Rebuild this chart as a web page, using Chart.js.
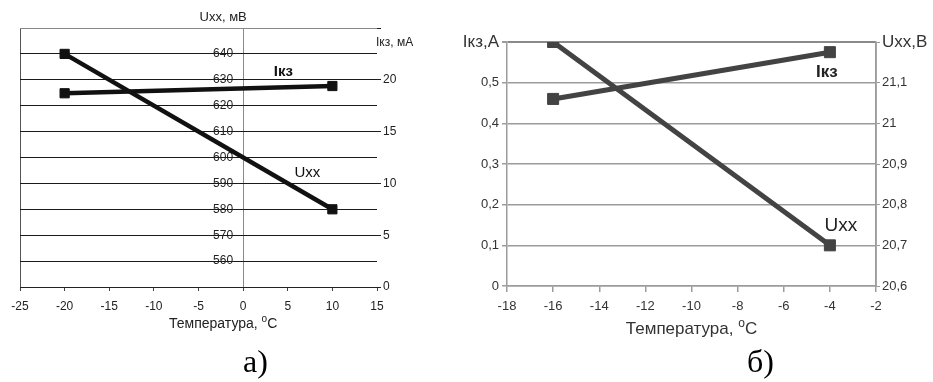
<!DOCTYPE html>
<html><head><meta charset="utf-8">
<script src="https://cdn.jsdelivr.net/npm/chart.js@4"></script>
<style>
html,body{margin:0;padding:0;background:#fff;width:933px;height:382px;overflow:hidden;}
#ca{position:absolute;left:0;top:0;}
#cb{position:absolute;left:440px;top:0;}
.cap{position:absolute;font-family:"Liberation Serif","DejaVu Serif",serif;font-size:32px;color:#000;line-height:1;}
</style></head><body>
<canvas id="ca" width="450" height="382"></canvas>
<canvas id="cb" width="493" height="382"></canvas>
<div class="cap" style="left:243px;top:345px">а)</div>
<div class="cap" style="left:747px;top:345px">б)</div>
<script>
// ---- Data: chart а) ----
const tempA = [-20, 10];          // °C
const uxxA  = [640, 580];         // Uxx, мВ
const ikzA  = [18.7, 19.4];       // Iкз, мА
const xTickA = {min: -25, max: 15, step: 5};
const uTickA = {min: 550, max: 650, step: 10};
const iTickA = {min: 0, max: 25, step: 5};

// ---- Data: chart б) ----
const tempB = [-16, -4];          // °C
const uxxB  = [21.2, 20.7];       // Uxx, В
const ikzB  = [0.46, 0.575];      // Iкз, А
const xTickB = {min: -18, max: -2, step: 2};
const iTickB = {min: 0, max: 0.6, step: 0.1};
const uTickB = {min: 20.6, max: 21.2, step: 0.1};

const SANS = '"Liberation Sans", Arial, sans-serif';
const fmtComma = v => String(Number(v.toFixed(2))).replace('.', ',');

function pts(xs, ys){ return xs.map((x,i)=>({x:x, y:ys[i]})); }

function drawText(ctx, text, x, y, font, color, align){
  ctx.save();
  ctx.font = font; ctx.fillStyle = color;
  ctx.textAlign = align || 'center'; ctx.textBaseline = 'middle';
  ctx.fillText(text, x, y);
  ctx.restore();
}
function drawTempTitle(ctx, cx, cy, size, color){
  ctx.save();
  const main = 'Температура, ';
  ctx.font = size + 'px ' + SANS;
  const w1 = ctx.measureText(main).width;
  const w3 = ctx.measureText('C').width;
  ctx.font = Math.round(size*0.72) + 'px ' + SANS;
  const w2 = ctx.measureText('o').width;
  let x = cx - (w1+w2+w3)/2;
  ctx.fillStyle = color; ctx.textAlign='left'; ctx.textBaseline='middle';
  ctx.font = size + 'px ' + SANS; ctx.fillText(main, x, cy); x += w1;
  ctx.font = Math.round(size*0.72) + 'px ' + SANS; ctx.fillText('o', x, cy - size*0.32); x += w2;
  ctx.font = size + 'px ' + SANS; ctx.fillText('C', x, cy);
  ctx.restore();
}

// ---------------- Chart а) ----------------
const inkA = '#111';
const notesA = {
  id: 'notesA',
  afterDraw(chart){
    const ctx = chart.ctx, a = chart.chartArea, s = chart.scales;
    const x0 = s.x.getPixelForValue(0);
    drawText(ctx, 'Uxx, мВ', x0 - 20, a.top - 11, '13px ' + SANS, '#222');
    drawText(ctx, 'Iкз, мА', a.right - 1, a.top + 15, '12px ' + SANS, '#222', 'left');
    drawTempTitle(ctx, x0 - 20, a.bottom + 37, 14, '#222');
    const pI = chart.getDatasetMeta(1).data[1];
    drawText(ctx, 'Iкз', pI.x - 49, pI.y - 14, 'bold 15px ' + SANS, inkA);
    const pU = chart.getDatasetMeta(0).data[1];
    drawText(ctx, 'Uxx', pU.x - 25, pU.y - 36, '15px ' + SANS, inkA);
  }
};
new Chart(document.getElementById('ca'), {
  type: 'line',
  data: { datasets: [
    { data: pts(tempA, uxxA), yAxisID: 'yU', borderColor: inkA, borderWidth: 4.5,
      pointStyle: 'rect', pointRadius: 6.5, pointBackgroundColor: inkA, pointBorderColor: inkA, pointBorderWidth: 1 },
    { data: pts(tempA, ikzA), yAxisID: 'yI', borderColor: inkA, borderWidth: 4.5,
      pointStyle: 'rect', pointRadius: 6.5, pointBackgroundColor: inkA, pointBorderColor: inkA, pointBorderWidth: 1 }
  ]},
  options: {
    responsive: false, animation: false, devicePixelRatio: 1,
    layout: { padding: { left: 20, top: 28, right: 0, bottom: 0 } },
    plugins: { legend: { display: false }, tooltip: { enabled: false } },
    scales: {
      x: { type: 'linear', min: xTickA.min, max: xTickA.max,
        ticks: { stepSize: xTickA.step, color: '#222', font: { size: 12, family: SANS }, padding: 8,
          callback: v => String(v), maxRotation: 0 },
        grid: { color: c => c.tick.value === xTickA.min ? '#555' : (c.tick.value === 0 ? '#8a8a8a' : 'rgba(0,0,0,0)'),
          tickColor: '#444', tickLength: 4, lineWidth: 1 },
        border: { color: '#222', width: 1 },
        afterFit: s => { s.height = 95; } },
      yU: { type: 'linear', position: { x: 0 }, min: uTickA.min, max: uTickA.max,
        ticks: { stepSize: uTickA.step, color: '#222', font: { size: 12, family: SANS },
          callback: v => (v === uTickA.min || v === uTickA.max) ? '' : String(v) + '   ' },
        grid: { color: c => c.tick.value === uTickA.max ? '#888' : '#1a1a1a', lineWidth: 1, drawTicks: false },
        border: { display: false } },
      yI: { type: 'linear', position: 'right', min: iTickA.min, max: iTickA.max,
        ticks: { stepSize: iTickA.step, color: '#222', font: { size: 12, family: SANS }, padding: 2,
          callback: v => v === iTickA.max ? '' : String(v) },
        grid: { drawOnChartArea: false, tickColor: '#222', tickLength: 4 },
        border: { display: false },
        afterFit: s => { s.width = 73; } }
    }
  },
  plugins: [notesA]
});

// ---------------- Chart б) ----------------
const inkB = '#434343';
const gridB = '#9c9c9c';
const notesB = {
  id: 'notesB',
  afterDraw(chart){
    const ctx = chart.ctx, a = chart.chartArea;
    drawText(ctx, 'Iкз,A', a.left - 8, a.top, '17px ' + SANS, '#333', 'right');
    drawText(ctx, 'Uxx,B', a.right + 6, a.top, '17px ' + SANS, '#333', 'left');
    drawTempTitle(ctx, (a.left + a.right)/2, a.bottom + 43, 17, '#333');
    const pI = chart.getDatasetMeta(1).data[1];
    drawText(ctx, 'Iкз', pI.x - 3, pI.y + 20, 'bold 17px ' + SANS, '#222');
    const pU = chart.getDatasetMeta(0).data[1];
    drawText(ctx, 'Uxx', pU.x + 11, pU.y - 20, '19px ' + SANS, '#222');
    // plot frame (right border)
    ctx.save(); ctx.strokeStyle = gridB; ctx.lineWidth = 1.5;
    ctx.beginPath(); ctx.moveTo(a.right, a.top); ctx.lineTo(a.right, a.bottom); ctx.stroke();
    ctx.restore();
  }
};
new Chart(document.getElementById('cb'), {
  type: 'line',
  data: { datasets: [
    { data: pts(tempB, uxxB), yAxisID: 'yU', borderColor: inkB, borderWidth: 5,
      pointStyle: 'rect', pointRadius: 7.8, pointBackgroundColor: inkB, pointBorderColor: inkB, pointBorderWidth: 1 },
    { data: pts(tempB, ikzB), yAxisID: 'yI', borderColor: inkB, borderWidth: 5,
      pointStyle: 'rect', pointRadius: 7.8, pointBackgroundColor: inkB, pointBorderColor: inkB, pointBorderWidth: 1 }
  ]},
  options: {
    responsive: false, animation: false, devicePixelRatio: 1,
    layout: { padding: { left: 0, top: 42, right: 0, bottom: 0 } },
    plugins: { legend: { display: false }, tooltip: { enabled: false } },
    scales: {
      x: { type: 'linear', min: xTickB.min, max: xTickB.max,
        ticks: { stepSize: xTickB.step, color: '#333', font: { size: 13, family: SANS }, padding: 7,
          callback: v => String(v), maxRotation: 0 },
        grid: { drawOnChartArea: false, tickColor: gridB, tickLength: 6, lineWidth: 1.5 },
        border: { color: gridB, width: 1.5 },
        afterFit: s => { s.height = 96; } },
      yI: { type: 'linear', position: 'left', min: iTickB.min, max: iTickB.max,
        ticks: { stepSize: iTickB.step, color: '#333', font: { size: 13, family: SANS }, padding: 3,
          callback: v => Math.abs(v - iTickB.max) < 1e-6 ? '' : fmtComma(v) },
        grid: { color: c => c.index === 6 ? '#8a8a8a' : gridB, lineWidth: c => c.index === 6 ? 2 : 1.5,
          tickColor: gridB, tickLength: 5 },
        border: { color: gridB, width: 1.5 },
        afterFit: s => { s.width = 67; } },
      yU: { type: 'linear', position: 'right', min: uTickB.min, max: uTickB.max,
        ticks: { stepSize: uTickB.step, color: '#333', font: { size: 13, family: SANS }, padding: 2,
          callback: v => Math.abs(v - uTickB.max) < 1e-6 ? '' : fmtComma(Number(v.toFixed(1))) },
        grid: { drawOnChartArea: false, tickColor: gridB, tickLength: 4 },
        border: { color: gridB, width: 1.5 },
        afterFit: s => { s.width = 57; } }
    }
  },
  plugins: [notesB]
});
</script>
</body></html>
